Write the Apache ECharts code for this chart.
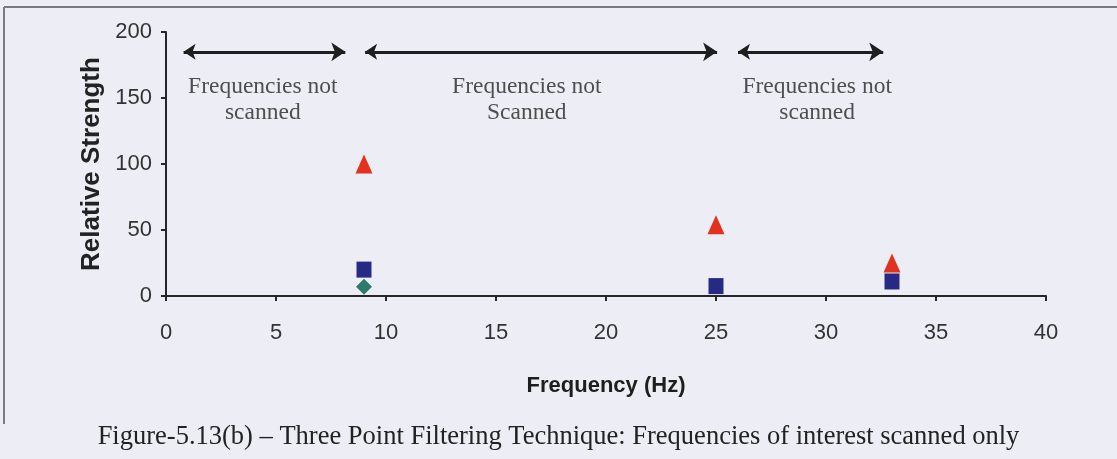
<!DOCTYPE html>
<html>
<head>
<meta charset="utf-8">
<script src="https://cdn.jsdelivr.net/npm/echarts@6/dist/echarts.min.js"></script>
<style>
  html, body { margin: 0; padding: 0; background: #ededf5; }
  #chart { width: 1117px; height: 459px; }
</style>
</head>
<body>
<div id="chart"></div>
<script>
// readings
const triangleData = [[9, 100], [25, 54], [33, 25]];
const squareData = [[9, 20], [25, 7.5], [33, 11]];
const diamondData = [[9, 7]];

const rangeArrows = [
  [[0.8, 185], [8.15, 185]],
  [[9.05, 185], [25.05, 185]],
  [[26.0, 185], [32.6, 185]]
];
const rangeNotes = [
  [4.4, 148.5, 'Frequencies not\nscanned'],
  [16.4, 148.5, 'Frequencies not\nScanned'],
  [29.6, 148.5, 'Frequencies not\nscanned']
];

const caption = 'Figure-5.13(b) \u2013 Three Point Filtering Technique: Frequencies of interest scanned only';

const chart = echarts.init(document.getElementById('chart'));

const axisColor = '#262626';
const labelFont = { fontFamily: 'Liberation Sans', fontSize: 22, color: '#333333' };

chart.setOption({
  backgroundColor: '#ededf5',
  animation: false,
  grid: { left: 166, right: 71, top: 32, bottom: 163 },
  xAxis: {
    type: 'value',
    min: 0,
    max: 40,
    interval: 5,
    name: 'Frequency (Hz)',
    nameLocation: 'middle',
    nameGap: 79,
    nameTextStyle: { fontFamily: 'Liberation Sans', fontSize: 22, fontWeight: 'bold', color: '#1e1e1e' },
    axisLine: { show: true, onZero: false, lineStyle: { color: axisColor, width: 2 } },
    axisTick: { show: true, length: 5, lineStyle: { color: axisColor, width: 2 } },
    axisLabel: Object.assign({ margin: 26 }, labelFont),
    splitLine: { show: false }
  },
  yAxis: {
    type: 'value',
    min: 0,
    max: 200,
    interval: 50,
    name: 'Relative Strength',
    nameLocation: 'middle',
    nameGap: 57,
    nameTextStyle: { fontFamily: 'Liberation Sans', fontSize: 26, fontWeight: 'bold', color: '#222222' },
    axisLine: { show: true, lineStyle: { color: axisColor, width: 2 } },
    axisTick: { show: true, length: 5, lineStyle: { color: axisColor, width: 2 } },
    axisLabel: Object.assign({ margin: 14 }, labelFont),
    splitLine: { show: false }
  },
  graphic: [
    { type: 'line', shape: { x1: 4, y1: 7, x2: 1117, y2: 7 }, style: { stroke: '#7a7a82', lineWidth: 2 } },
    { type: 'line', shape: { x1: 4, y1: 7, x2: 4, y2: 424 }, style: { stroke: '#7a7a82', lineWidth: 2 } },
    {
      type: 'text', left: 'center', top: 424,
      style: { text: caption, fontFamily: 'Liberation Serif', fontSize: 26.5, fill: '#222222' }
    }
  ],
  series: [
    {
      type: 'lines',
      coordinateSystem: 'cartesian2d',
      symbol: ['arrow', 'arrow'],
      symbolSize: [12, 14],
      lineStyle: { color: '#1e1e1e', width: 3, opacity: 1 },
      data: rangeArrows.map(c => ({ coords: c })),
      z: 3
    },
    {
      type: 'scatter',
      symbolSize: 0,
      silent: true,
      data: rangeNotes.map(n => ({ value: [n[0], n[1]], note: n[2] })),
      label: {
        show: true,
        position: 'inside',
        formatter: p => p.data.note,
        fontFamily: 'Liberation Serif',
        fontSize: 23.5,
        lineHeight: 26,
        align: 'center',
        color: '#262626'
      }
    },
    {
      type: 'scatter',
      symbol: 'triangle',
      symbolSize: [17, 19],
      itemStyle: { color: '#e2311f', opacity: 1 },
      data: triangleData,
      z: 4
    },
    {
      type: 'scatter',
      symbol: 'diamond',
      symbolSize: [16, 16],
      itemStyle: { color: '#2c7a6c', opacity: 1 },
      data: diamondData,
      z: 5
    },
    {
      type: 'scatter',
      symbol: 'rect',
      symbolSize: [15, 16],
      itemStyle: { color: '#272a85', opacity: 1 },
      data: squareData,
      z: 6
    }
  ]
});
</script>
</body>
</html>
